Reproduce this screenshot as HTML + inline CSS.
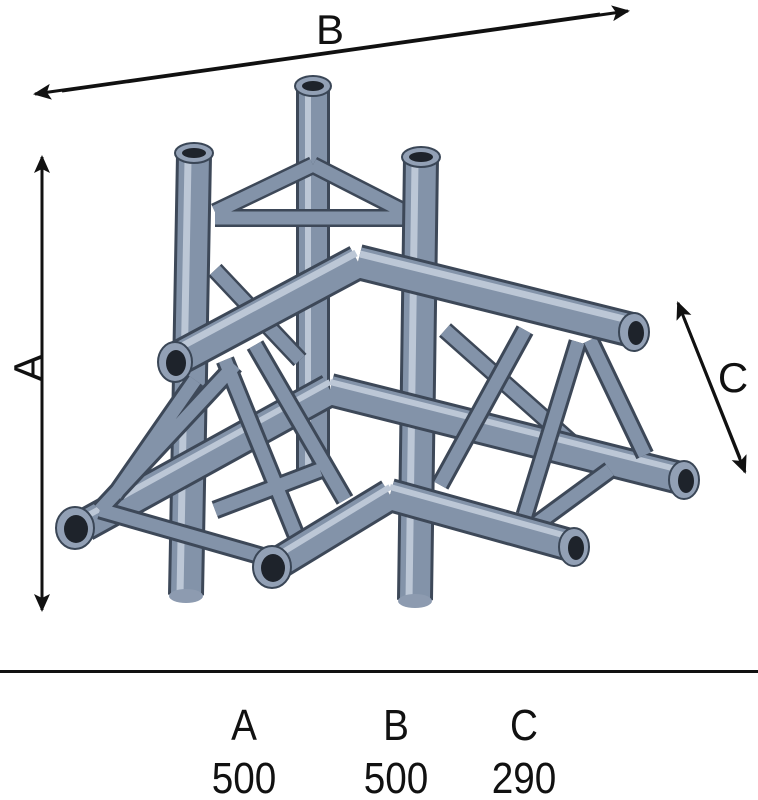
<!DOCTYPE html>
<html><head><meta charset="utf-8"><style>
html,body{margin:0;padding:0;background:#fff;width:758px;height:800px;overflow:hidden}
svg{display:block}
.o{stroke:#3d4858;fill:none;stroke-linecap:butt}
.m{stroke:#8393a9;fill:none}
.h{stroke:#bcc7d6;fill:none}
text{font-family:"Liberation Sans",sans-serif;fill:#111}
</style></head><body>
<svg width="758" height="800" viewBox="0 0 758 800" xmlns="http://www.w3.org/2000/svg">
<defs>
<marker id="ar2" markerWidth="18" markerHeight="18" refX="16" refY="9" orient="auto" markerUnits="userSpaceOnUse" viewBox="0 0 18 18"><path d="M0,1 L18,9 L0,17 L4,9 z" fill="#111"/></marker>
</defs>

<line x1="62" y1="91" x2="628" y2="11" stroke="#111" stroke-width="3" marker-end="url(#ar2)"/>
<line x1="600" y1="14" x2="35" y2="94" stroke="#111" stroke-width="3" marker-end="url(#ar2)"/>
<line x1="42" y1="175" x2="42" y2="610" stroke="#111" stroke-width="3" marker-end="url(#ar2)"/>
<line x1="42" y1="595" x2="42" y2="157" stroke="#111" stroke-width="3" marker-end="url(#ar2)"/>
<line x1="684" y1="318" x2="745" y2="472" stroke="#111" stroke-width="3" marker-end="url(#ar2)"/>
<line x1="740" y1="458" x2="678" y2="303" stroke="#111" stroke-width="3" marker-end="url(#ar2)"/>
<text x="330" y="44" font-size="42" text-anchor="middle">B</text>
<text x="0" y="0" font-size="42" text-anchor="middle" transform="translate(43,368) rotate(-90)">A</text>
<text x="733" y="392" font-size="42" text-anchor="middle">C</text>

<g>
<path class="o" stroke-width="34" d="M313,85 L313,470"/>
<path class="m" stroke-width="28" d="M313,85 L313,470"/>
<path class="h" stroke-width="6" d="M308,90 L308,470"/>
<path class="o" stroke-width="18" d="M215,218 L405,218 M313,165 L215,212 M313,165 L405,212"/>
<path class="m" stroke-width="13" d="M215,218 L405,218 M313,165 L215,212 M313,165 L405,212"/>
<path class="o" stroke-width="18" d="M215,270 L300,360 M445,330 L580,450"/>
<path class="m" stroke-width="13" d="M215,270 L300,360 M445,330 L580,450"/>
</g>
<g>
<path class="o" stroke-width="36" d="M194,155 L186,595 M421,158 L415,600"/>
<path class="m" stroke-width="30" d="M194,155 L186,595 M421,158 L415,600"/>
<path class="h" stroke-width="7" d="M188,160 L180,595 M415,163 L409,600"/>
</g>
<g>
<path class="o" stroke-width="34" d="M330,390 L85,525 M330,390 L680,478"/>
<path class="m" stroke-width="28" d="M330,390 L85,525 M330,390 L680,478"/>
<path class="h" stroke-width="6" d="M330,382 L85,517 M330,382 L680,470"/>
</g>
<g>
<path class="o" stroke-width="19" d="M225,360 L298,540 M255,345 L345,500 M235,365 L100,510 M195,380 L115,495 M525,330 L440,485 M578,342 L525,515 M590,340 L645,455 M610,470 L535,525 M100,510 L275,560 M215,510 L320,470"/>
<path class="m" stroke-width="13" d="M225,360 L298,540 M255,345 L345,500 M235,365 L100,510 M195,380 L115,495 M525,330 L440,485 M578,342 L525,515 M590,340 L645,455 M610,470 L535,525 M100,510 L275,560 M215,510 L320,470"/>
</g>
<g>
<path class="o" stroke-width="34" d="M390,495 L275,565 M390,495 L570,545"/>
<path class="m" stroke-width="28" d="M390,495 L275,565 M390,495 L570,545"/>
<path class="h" stroke-width="6" d="M390,487 L275,557 M390,487 L570,537"/>
</g>
<g>
<path class="o" stroke-width="36" d="M358,262 L175,360 M358,262 L632,330"/>
<path class="m" stroke-width="30" d="M358,262 L175,360 M358,262 L632,330"/>
<path class="h" stroke-width="7" d="M356,253 L173,351 M360,254 L632,321"/>
</g>
<g fill="#92a0b5" stroke="#3a4656" stroke-width="2">
<ellipse cx="313" cy="86" rx="18" ry="10"/>
<ellipse cx="194" cy="153" rx="19" ry="10"/>
<ellipse cx="421" cy="157" rx="19" ry="10"/>
<ellipse cx="175" cy="362" rx="17" ry="20"/>
<ellipse cx="634" cy="332" rx="15" ry="19"/>
<ellipse cx="684" cy="480" rx="15" ry="19"/>
<ellipse cx="75" cy="528" rx="19" ry="21"/>
<ellipse cx="272" cy="567" rx="19" ry="21"/>
<ellipse cx="574" cy="547" rx="15" ry="19"/>
</g>
<g fill="#1e232b">
<ellipse cx="313" cy="86" rx="11" ry="5"/>
<ellipse cx="194" cy="153" rx="12" ry="5"/>
<ellipse cx="421" cy="157" rx="12" ry="5"/>
<ellipse cx="176" cy="363" rx="10" ry="13"/>
<ellipse cx="636" cy="333" rx="8" ry="12"/>
<ellipse cx="686" cy="481" rx="8" ry="12"/>
<ellipse cx="76" cy="529" rx="12" ry="14"/>
<ellipse cx="273" cy="568" rx="12" ry="14"/>
<ellipse cx="576" cy="548" rx="8" ry="12"/>
</g>
<ellipse cx="186" cy="596" rx="17" ry="7" fill="#8d9bb0"/>
<ellipse cx="415" cy="601" rx="17" ry="7" fill="#8d9bb0"/>

<rect x="0" y="670" width="758" height="3" fill="#111"/>
<g font-size="44" text-anchor="middle">
<text x="244" y="740" transform="translate(244,0) scale(0.88,1) translate(-244,0)">A</text>
<text x="396" y="740" transform="translate(396,0) scale(0.88,1) translate(-396,0)">B</text>
<text x="524" y="740" transform="translate(524,0) scale(0.88,1) translate(-524,0)">C</text>
<text x="244" y="793" transform="translate(244,0) scale(0.88,1) translate(-244,0)">500</text>
<text x="396" y="793" transform="translate(396,0) scale(0.88,1) translate(-396,0)">500</text>
<text x="524" y="793" transform="translate(524,0) scale(0.88,1) translate(-524,0)">290</text>
</g>
</svg>
</body></html>
